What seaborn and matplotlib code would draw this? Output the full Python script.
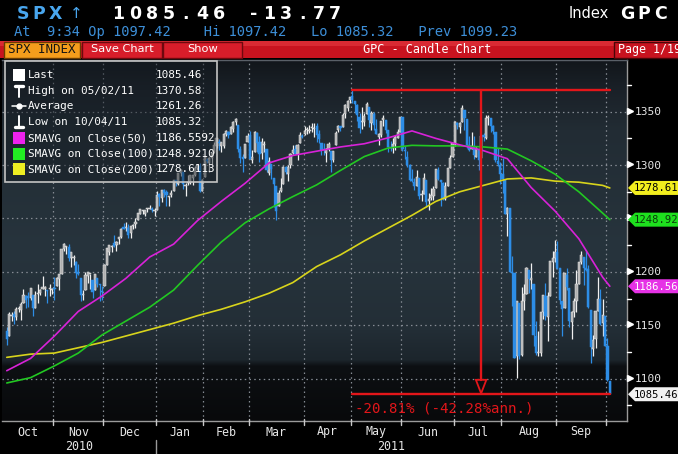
import numpy as np
import matplotlib
matplotlib.use("Agg")
import matplotlib.pyplot as plt
from matplotlib.patches import Rectangle, Polygon
import seaborn as sns
import pandas as pd

# ------------------------------------------------------------------ data
month_labels = ["Oct", "Nov", "Dec", "Jan", "Feb", "Mar", "Apr", "May",
                "Jun", "Jul", "Aug", "Sep", "Oct"]
month_days = [20, 21, 22, 20, 19, 23, 20, 21, 22, 20, 23, 21, 2]
year_labels = ["2010", "2011"]

open_ = [
    1145, 1140, 1159, 1161, 1158, 1165, 1164, 1171, 1177, 1177, 1176, 1178, 1166, 1179, 1180, 1184, 1184, 1183, 1184, 1183,
    1185, 1187, 1193, 1198, 1221, 1223, 1223, 1213, 1213, 1209, 1200, 1194, 1178, 1183, 1196, 1198, 1192, 1183, 1194, 1189, 1182,
    1187, 1206, 1219, 1223, 1227, 1225, 1231, 1233, 1242, 1241, 1241, 1236, 1243, 1245, 1249, 1254, 1257, 1254, 1259, 1259, 1259, 1257,
    1258, 1273, 1269, 1277, 1275, 1270, 1272, 1276, 1286, 1282, 1293, 1294, 1280, 1283, 1283, 1288, 1291, 1297, 1299, 1276,
    1289, 1305, 1302, 1307, 1312, 1318, 1322, 1318, 1318, 1329, 1331, 1329, 1334, 1340, 1338, 1315, 1308, 1307, 1322,
    1328, 1305, 1312, 1330, 1322, 1311, 1319, 1315, 1293, 1301, 1288, 1280, 1262, 1276, 1282, 1298, 1292, 1300, 1311, 1315, 1310, 1321, 1327,
    1329, 1333, 1332, 1335, 1334, 1337, 1329, 1321, 1315, 1311, 1315, 1313, 1305, 1319, 1333, 1337, 1336, 1348, 1353, 1361,
    1365, 1360, 1356, 1345, 1340, 1340, 1348, 1354, 1339, 1348, 1334, 1326, 1328, 1342, 1342, 1333, 1317, 1316, 1320, 1325, 1331,
    1345, 1314, 1308, 1300, 1287, 1284, 1280, 1288, 1272, 1273, 1286, 1266, 1269, 1271, 1279, 1295, 1286, 1283, 1268, 1280, 1297, 1308,
    1320, 1339, 1336, 1340, 1352, 1343, 1319, 1315, 1317, 1308, 1315, 1307, 1328, 1325, 1344, 1344, 1337, 1331, 1304, 1300,
    1292, 1286, 1254, 1260, 1200, 1199, 1121, 1171, 1122, 1173, 1179, 1202, 1192, 1189, 1140, 1124, 1124, 1162, 1177, 1158, 1177, 1209, 1213,
    1219, 1204, 1173, 1166, 1197, 1185, 1153, 1162, 1173, 1189, 1209, 1214, 1204, 1203, 1164, 1128, 1137, 1163, 1175, 1152, 1159,
    1131, 1097.42,
]
high = [
    1148, 1162, 1162, 1163, 1167, 1168, 1172, 1184, 1178, 1181, 1185, 1178, 1182, 1189, 1184, 1196, 1187, 1183, 1189, 1185,
    1195, 1195, 1198, 1221, 1227, 1224, 1226, 1219, 1216, 1210, 1207, 1194, 1183, 1200, 1200, 1198, 1192, 1198, 1194, 1189, 1187,
    1207, 1221, 1225, 1225, 1235, 1229, 1233, 1241, 1246, 1247, 1245, 1243, 1245, 1250, 1255, 1259, 1258, 1258, 1260, 1263, 1261, 1260,
    1276, 1274, 1277, 1278, 1277, 1271, 1277, 1286, 1286, 1293, 1296, 1294, 1283, 1291, 1291, 1291, 1299, 1301, 1302, 1287,
    1308, 1307, 1308, 1311, 1322, 1324, 1324, 1322, 1330, 1333, 1332, 1337, 1341, 1344, 1338, 1318, 1310, 1320, 1330,
    1332, 1314, 1332, 1331, 1327, 1325, 1323, 1315, 1308, 1301, 1288, 1280, 1277, 1288, 1299, 1299, 1300, 1311, 1319, 1319, 1320, 1331, 1329,
    1337, 1336, 1338, 1339, 1339, 1339, 1333, 1321, 1321, 1316, 1322, 1313, 1313, 1332, 1338, 1337, 1349, 1357, 1361, 1364,
    1370.58, 1360, 1357, 1349, 1354, 1349, 1359, 1354, 1351, 1350, 1343, 1330, 1341, 1347, 1342, 1333, 1323, 1325, 1328, 1334, 1345,
    1345, 1318, 1313, 1301, 1296, 1288, 1295, 1288, 1277, 1293, 1286, 1274, 1279, 1280, 1296, 1298, 1286, 1284, 1284, 1296, 1309, 1321,
    1341, 1340, 1340, 1356, 1352, 1343, 1327, 1331, 1327, 1317, 1315, 1327, 1330, 1347, 1347, 1344, 1338, 1331, 1316, 1303,
    1307, 1286, 1261, 1260, 1215, 1199, 1173, 1171, 1186, 1189, 1205, 1202, 1208, 1189, 1154, 1145, 1162, 1178, 1190, 1181, 1210, 1220, 1230,
    1229, 1204, 1173, 1198, 1204, 1185, 1163, 1176, 1202, 1209, 1220, 1214, 1220, 1206, 1164, 1141, 1162, 1195, 1184, 1175, 1159,
    1138, 1097.42,
]
low = [
    1132, 1140, 1154, 1151, 1155, 1162, 1155, 1171, 1166, 1167, 1174, 1159, 1166, 1171, 1178, 1184, 1177, 1171, 1177, 1179,
    1174, 1187, 1183, 1198, 1220, 1217, 1210, 1205, 1206, 1194, 1197, 1173, 1174, 1183, 1190, 1184, 1176, 1183, 1186, 1173, 1174,
    1187, 1206, 1216, 1219, 1223, 1220, 1226, 1232, 1240, 1238, 1232, 1232, 1240, 1241, 1249, 1254, 1254, 1252, 1256, 1259, 1256, 1252,
    1258, 1262, 1265, 1270, 1262, 1262, 1270, 1276, 1280, 1281, 1290, 1278, 1271, 1281, 1282, 1281, 1290, 1295, 1275, 1276,
    1289, 1302, 1294, 1301, 1311, 1316, 1314, 1312, 1316, 1327, 1325, 1329, 1331, 1338, 1312, 1302, 1294, 1307, 1322,
    1306, 1302, 1312, 1312, 1303, 1306, 1312, 1294, 1291, 1287, 1261, 1249, 1262, 1275, 1282, 1292, 1285, 1297, 1310, 1310, 1305, 1321, 1325,
    1328, 1329, 1330, 1331, 1326, 1322, 1321, 1309, 1309, 1303, 1313, 1294, 1303, 1319, 1331, 1332, 1336, 1344, 1351, 1358,
    1358, 1349, 1341, 1330, 1334, 1337, 1348, 1336, 1333, 1333, 1329, 1319, 1326, 1337, 1330, 1312, 1313, 1311, 1314, 1325, 1331,
    1313, 1306, 1298, 1285, 1284, 1277, 1280, 1268, 1266, 1273, 1261, 1258, 1267, 1267, 1279, 1286, 1262, 1267, 1267, 1280, 1297, 1308,
    1318, 1334, 1330, 1340, 1333, 1316, 1313, 1315, 1306, 1308, 1295, 1307, 1323, 1324, 1338, 1331, 1329, 1303, 1299, 1282,
    1274, 1254, 1234, 1200, 1168, 1119, 1101, 1118, 1121, 1164, 1179, 1180, 1184, 1131, 1122, 1121, 1121, 1156, 1155, 1135, 1177, 1195, 1209,
    1203, 1170, 1140, 1166, 1183, 1148, 1137, 1158, 1162, 1189, 1207, 1188, 1201, 1166, 1115, 1121, 1129, 1163, 1150, 1140, 1131,
    1098, 1085.32,
]
close = [
    1137, 1161, 1160, 1158, 1165, 1165, 1170, 1178, 1174, 1176, 1185, 1166, 1178, 1180, 1183, 1186, 1186, 1182, 1184, 1183,
    1184, 1194, 1198, 1221, 1226, 1223, 1213, 1219, 1214, 1199, 1198, 1178, 1179, 1197, 1200, 1198, 1181, 1198, 1189, 1188, 1181,
    1206, 1222, 1225, 1223, 1224, 1228, 1233, 1240, 1240, 1242, 1235, 1243, 1244, 1247, 1255, 1259, 1257, 1258, 1259, 1260, 1258, 1258,
    1272, 1270, 1277, 1274, 1272, 1270, 1274, 1286, 1284, 1293, 1295, 1282, 1280, 1283, 1291, 1291, 1297, 1300, 1276, 1286,
    1308, 1304, 1307, 1311, 1319, 1325, 1321, 1322, 1329, 1332, 1328, 1336, 1340, 1343, 1315, 1307, 1306, 1320, 1327,
    1306, 1308, 1331, 1321, 1310, 1322, 1320, 1295, 1304, 1296, 1282, 1257, 1274, 1279, 1298, 1294, 1298, 1310, 1314, 1310, 1319, 1328, 1326,
    1332, 1333, 1333, 1336, 1334, 1328, 1324, 1314, 1314, 1315, 1320, 1305, 1313, 1330, 1337, 1335, 1347, 1356, 1360, 1364,
    1361, 1357, 1347, 1335, 1340, 1346, 1357, 1342, 1349, 1338, 1329, 1329, 1341, 1344, 1333, 1317, 1316, 1320, 1326, 1331, 1345,
    1315, 1313, 1300, 1286, 1285, 1280, 1289, 1271, 1272, 1288, 1265, 1268, 1272, 1278, 1296, 1287, 1284, 1268, 1280, 1297, 1307, 1321,
    1340, 1338, 1339, 1353, 1344, 1319, 1314, 1318, 1309, 1316, 1305, 1327, 1326, 1344, 1345, 1337, 1332, 1305, 1301, 1292,
    1287, 1254, 1260, 1200, 1199, 1119, 1173, 1121, 1173, 1179, 1204, 1193, 1194, 1141, 1124, 1124, 1162, 1178, 1159, 1177, 1210, 1213, 1219,
    1204, 1174, 1165, 1199, 1186, 1154, 1162, 1173, 1189, 1209, 1216, 1204, 1202, 1167, 1130, 1136, 1163, 1175, 1151, 1160, 1131,
    1099.23, 1085.46,
]

ma_idx = [0, 10, 20, 30, 40, 50, 60, 70, 80, 90, 100, 110, 120, 130, 140,
          150, 160, 170, 180, 190, 200, 210, 220, 230, 240, 250, 253]
sma50 = [1107.5, 1119, 1140, 1163, 1177.5, 1194, 1214, 1226, 1248, 1266, 1283, 1302, 1309, 1313, 1317,
         1320, 1325.5, 1332, 1325, 1319, 1313.5, 1306, 1279, 1257, 1231, 1195, 1186.56]
sma100 = [1096, 1101, 1112, 1124, 1141, 1154, 1167, 1183, 1206, 1228, 1246, 1259, 1270.5, 1281.5, 1295,
          1308, 1316, 1318.5, 1318, 1318, 1317, 1315, 1304, 1291.5, 1275, 1255, 1248.92]
sma200 = [1120, 1123, 1124, 1129, 1134, 1140, 1146, 1152, 1159, 1165, 1172, 1180, 1190, 1205, 1216,
          1229, 1241, 1253, 1266, 1275, 1281, 1287, 1288, 1285, 1284, 1281, 1278.61]

legend_names = ["Last", "High on 05/02/11", "Average", "Low on 10/04/11",
                "SMAVG on Close(50)", "SMAVG on Close(100)", "SMAVG on Close(200)"]
legend_values = ["1085.46", "1370.58", "1261.26", "1085.32",
                 "1186.5592", "1248.9210", "1278.6113"]
tag_values = [1278.61, 1248.92, 1186.56, 1085.46]
tag_labels = ["1278.61", "1248.92", "1186.56", "1085.46"]
y_ticks = [1100, 1150, 1200, 1250, 1300, 1350]
y_minor = [1075, 1125, 1175, 1225, 1275, 1325, 1375]
high_value, high_index = 1370.58, 145
last_value, last_index = 1085.46, 253
change_text = "-20.81% (-42.28%ann.)"

# ------------------------------------------------------------------ style
sns.set_theme(style="dark")
plt.rcParams["font.family"] = ["DejaVu Sans"]
MONO = "DejaVu Sans Mono"

C_MAG, C_GRN, C_YEL = "#d822d8", "#22c822", "#d8d41c"
C_UP_BODY, C_UP_WICK, C_DN = "#b0b0b0", "#f0f0f0", "#2d8de6"
C_RED = "#e3161a"

W, H = 678, 454
fig = plt.figure(figsize=(W / 100, H / 100), dpi=100, facecolor="black")
PL, PR, PT, PB = 2, 627, 60, 421
ax = fig.add_axes([PL / W, 1 - PB / H, (PR - PL) / W, (PB - PT) / H])
X0, X1 = -2.0, 260.2
Y0, Y1 = 1060.4, 1398.4

# background gradient
stops_y = [60, 90, 130, 250, 330, 360, 366, 421]
stops_c = ["#12161b", "#1a2128", "#222c34", "#27343d", "#232e36", "#1c252c", "#0d1013", "#08090b"]
rows = np.arange(PT, PB) + 0.5
rgb = np.array([matplotlib.colors.to_rgb(c) for c in stops_c])
img = np.stack([np.interp(rows, stops_y, rgb[:, k]) for k in range(3)], axis=-1)[:, None, :]
ax.imshow(img, extent=[X0, X1, Y0, Y1], aspect="auto", origin="upper", zorder=0)
ax.set_xlim(X0, X1)
ax.set_ylim(Y0, Y1)
ax.grid(False)
ax.spines["left"].set_visible(False)
ax.spines["right"].set_color("#9a9a9a")
ax.spines["bottom"].set_color("#9a9a9a")
ax.spines["top"].set_color("#5a6068")
for s in ["right", "bottom", "top"]:
    ax.spines[s].set_linewidth(1.0)

# grid
dots = (0, (1.2, 2.6))
for v in y_ticks:
    ax.axhline(v, color="#858b93", lw=0.9, ls=dots, zorder=1)
bounds = np.cumsum(month_days)[:-1] - 0.5
for b in bounds:
    ax.axvline(b, color="#858b93", lw=0.9, ls=dots, zorder=1)

# candles
o = np.array(open_, float); h = np.array(high, float)
l = np.array(low, float); c = np.array(close, float)
x = np.arange(len(c))
up = c >= o
body_lo = np.minimum(o, c)
body_h = np.maximum(np.abs(c - o), 0.9)
ax.vlines(x[up], l[up], h[up], color=C_UP_WICK, lw=0.9, zorder=3)
ax.vlines(x[~up], l[~up], h[~up], color=C_DN, lw=0.9, zorder=3)
ax.bar(x[up], body_h[up], bottom=body_lo[up], width=0.92, color=C_UP_BODY,
       edgecolor="#ececec", linewidth=0.35, zorder=4)
ax.bar(x[~up], body_h[~up], bottom=body_lo[~up], width=0.92, color=C_DN,
       edgecolor=C_DN, linewidth=0.35, zorder=4)

# moving averages
ma_df = pd.DataFrame({"idx": ma_idx, "s50": sma50, "s100": sma100, "s200": sma200})
sns.lineplot(data=ma_df, x="idx", y="s200", color=C_YEL, lw=1.2, ax=ax, zorder=5)
sns.lineplot(data=ma_df, x="idx", y="s100", color=C_GRN, lw=1.2, ax=ax, zorder=5)
sns.lineplot(data=ma_df, x="idx", y="s50", color=C_MAG, lw=1.2, ax=ax, zorder=5)
ax.set_xlabel(""); ax.set_ylabel("")
ax.set_xlim(X0, X1); ax.set_ylim(Y0, Y1)
ax.set_xticks([]); ax.set_yticks([])

# red range annotation
mid_index = (high_index + last_index) / 2
ax.plot([high_index, last_index], [high_value, high_value], color=C_RED, lw=1.7, zorder=6)
ax.plot([high_index, last_index], [last_value, last_value], color=C_RED, lw=1.7, zorder=6)
tri_h, tri_w = 13.5, 2.2
ax.plot([mid_index, mid_index], [high_value, last_value + tri_h], color=C_RED, lw=1.7, zorder=6)
ax.add_patch(Polygon([[mid_index - tri_w, last_value + tri_h], [mid_index + tri_w, last_value + tri_h],
                      [mid_index, last_value + 0.8]], closed=True, fill=False,
                     edgecolor=C_RED, lw=1.3, zorder=6))

# ------------------------------------------------------------------ overlay (pixel coords)
def px(xv, yv):
    X, Y = ax.transData.transform((xv, yv))
    return X, H - Y

ov = fig.add_axes([0, 0, 1, 1], zorder=10)
ov.set_xlim(0, W); ov.set_ylim(H, 0); ov.axis("off")

# change text
_, ty = px(0, last_value)
ov.text(355, ty + 14, change_text, color=C_RED, fontsize=10.2, family=MONO,
        va="center", ha="left")

# y tick labels and markers (labels hidden where a value tag sits on top)
tag_pix = [px(0, v)[1] for v in tag_values]
for v in y_ticks:
    _, Y = px(0, v)
    ov.plot([629.5], [Y - 1], marker=">", ms=4.2, color="white", mec="white", clip_on=False, zorder=3)
    ov.plot([627, 631], [Y - 1, Y - 1], color="white", lw=1.0, zorder=3)
    if min(abs(Y - tp) for tp in tag_pix) > 9:
        ov.text(635, Y + 0.5, f"{v}", color="#e6e6e6", fontsize=8.0, family=MONO,
                va="center", ha="left", zorder=3)
for v in y_minor:
    _, Y = px(0, v)
    ov.plot([627, 630.5], [Y, Y], color="white", lw=1.0, zorder=3)

# value tags
tag_colors = [("#f2ee1e", "black"), ("#1ee01e", "#0a3a0a"), ("#e632e6", "white"), ("#f2f2f2", "black")]
for v, lab, (fc, tc), Y in zip(tag_values, tag_labels, tag_colors, tag_pix):
    ov.add_patch(Polygon([[628, Y], [635, Y - 7], [690, Y - 7], [690, Y + 7], [635, Y + 7]],
                         closed=True, facecolor=fc, edgecolor="none", zorder=5))
    ov.text(633.5, Y + 0.5, lab, color=tc, fontsize=7.6, family=MONO, va="center",
            ha="left", zorder=6)

# bottom axis: ticks, month labels, years
for b in bounds:
    X, _ = px(b, 0)
    ov.plot([X, X], [PB - 2, PB + 4], color="#c8c8c8", lw=1.0)
for i, lab in enumerate(month_labels[:-1]):
    lo_b = bounds[i - 1] if i > 0 else -1.5
    hi_b = bounds[i]
    X, _ = px((lo_b + hi_b) / 2, 0)
    ov.text(X, 432, lab, color="#e6e6e6", fontsize=8.4, family=MONO, ha="center", va="center")
jan_b = bounds[2]
JX, _ = px(jan_b, 0)
ov.plot([JX, JX], [440, H], color="#9a9a9a", lw=1.0)
ov.text((PL + JX) / 2, 447, year_labels[0], color="#e6e6e6", fontsize=8.4, family=MONO, ha="center", va="center")
ov.text((JX + PR) / 2, 447, year_labels[1], color="#e6e6e6", fontsize=8.4, family=MONO, ha="center", va="center")

# legend box
ov.add_patch(Rectangle((5, 61), 212, 121, facecolor="#161d24", alpha=0.45, edgecolor="none"))
ov.add_patch(Rectangle((5, 61), 212, 121, facecolor="none", edgecolor="#c4c4c4", lw=1.2))
row_y = [75, 90.7, 106, 121.7, 138.3, 154, 169.3]
for yy, name, val in zip(row_y, legend_names, legend_values):
    ov.text(27.5, yy, name, color="white", fontsize=7.9, family=MONO, va="center", ha="left")
    ov.text(155.5, yy, val, color="white", fontsize=7.9, family=MONO, va="center", ha="left")
ov.add_patch(Rectangle((13, row_y[0] - 6), 12, 12, facecolor="white", edgecolor="none"))
ov.plot([14.5, 22.5], [row_y[1] - 5, row_y[1] - 5], color="white", lw=2.4)
ov.plot([18.5, 18.5], [row_y[1] - 5, row_y[1] + 6], color="white", lw=1.4)
ov.plot([12, 26], [row_y[2], row_y[2]], color="white", lw=1.1)
ov.plot([19], [row_y[2]], marker="o", ms=3.5, color="white")
ov.plot([18.5, 18.5], [row_y[3] - 6, row_y[3] + 5], color="white", lw=1.4)
ov.plot([14.5, 22.5], [row_y[3] + 5, row_y[3] + 5], color="white", lw=2.4)
for yy, col in zip(row_y[4:], ["#ee22ee", "#22ee22", "#eeee22"]):
    ov.add_patch(Rectangle((13, yy - 6), 12, 12, facecolor=col, edgecolor="none"))

# header line 1
def spaced(text, x0, pitch, y, color, size, weight="bold"):
    for k, ch in enumerate(text):
        ov.text(x0 + pitch * (k + 0.5), y, ch, color=color, fontsize=size,
                weight=weight, ha="center", va="center", family="DejaVu Sans")

spaced("SPX", 15, 16.0, 14, "#49a6ee", 12.5)
ov.text(76, 14, "\u2191", color="#49a6ee", fontsize=11, ha="center", va="center")
spaced("1085.46", 110, 16.7, 14, "white", 12.5)
spaced("-13.77", 245, 16.4, 14, "white", 12.5)
ov.text(569, 14, "Index", color="white", fontsize=10.5, ha="left", va="center")
spaced("GPC", 619, 16.7, 14, "white", 12.5)

# header line 2
ov.text(14, 32, "At  9:34 Op 1097.42    Hi 1097.42   Lo 1085.32   Prev 1099.23",
        color="#3d8fd8", fontsize=9.9, family=MONO, ha="left", va="center")

# red command bar
ov.add_patch(Rectangle((0, 41), W, 17, facecolor="#c8131f", edgecolor="none"))
ov.add_patch(Rectangle((0, 41), W, 5, facecolor="#d92a33", edgecolor="none"))
ov.add_patch(Rectangle((4, 41.5), 76, 16, facecolor="#f49d1c", edgecolor="#6a3c00", lw=1))
ov.text(42, 49.5, "SPX INDEX", color="#141414", fontsize=9, family=MONO, ha="center", va="center")
for x0b, x1b, lab in [(82, 162, "Save Chart"), (163, 242, "Show")]:
    ov.add_patch(Rectangle((x0b, 41.5), x1b - x0b, 16, facecolor="#d81d2a", edgecolor="#6e080e", lw=1))
    ov.text((x0b + x1b) / 2, 49.5, lab, color="white", fontsize=8.2, ha="center", va="center")
ov.text(427, 49.5, "GPC - Candle Chart", color="white", fontsize=8.6, family=MONO, ha="center", va="center")
ov.add_patch(Rectangle((614, 41.5), 70, 16, facecolor="#c8131f", edgecolor="#4a0508", lw=1))
ov.text(618, 49.5, "Page 1/19", color="white", fontsize=8.4, family=MONO, ha="left", va="center")

fig.savefig("out.png", dpi=100, facecolor="black")
